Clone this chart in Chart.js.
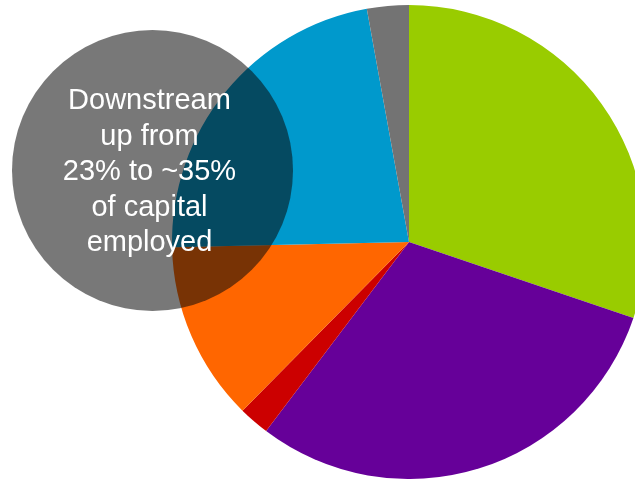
<!DOCTYPE html>
<html>
<head>
<meta charset="utf-8">
<script src="https://cdn.jsdelivr.net/npm/chart.js@4.4.1/dist/chart.umd.min.js"></script>
<style>
    html, body { margin: 0; padding: 0; background: #fff; overflow: hidden; width: 635px; height: 479px; }
    #wrap { position: absolute; left: 0; top: 5px; width: 818px; height: 474px; }
    #bubble {
        position: absolute; left: 12px; top: 30px; width: 281px; height: 281px;
        border-radius: 50%; background: rgba(10, 10, 10, 0.55);
    }
    #bubble-text {
        position: absolute; left: 9px; top: 82px; width: 281px;
        text-align: center; color: #fff;
        font-family: "Liberation Sans", Arial, sans-serif; font-size: 29px; line-height: 35.5px;
    }
</style>
</head>
<body>
<div id="wrap"><canvas id="pieChart" width="818" height="474"></canvas></div>
<div id="bubble"></div>
<div id="bubble-text">Downstream<br>up from<br>23% to ~35%<br>of capital<br>employed</div>
<script>
// slice shares (% of capital employed), clockwise from 12 o'clock
const segments = ['Segment A', 'Segment B', 'Segment C', 'Segment D', 'Segment E', 'Segment F'];
const shares = [30.2, 30.1, 2.1, 12.25, 22.5, 2.85];
const sliceColors = ['#99CC00', '#660099', '#CC0000', '#FF6600', '#0099CC', '#737373'];

function createPieChart(ctx) {
    return new Chart(ctx, {
        type: 'pie',
        data: {
            labels: segments,
            datasets: [{
                data: shares,
                backgroundColor: sliceColors,
                borderWidth: 0
            }]
        },
        options: {
            responsive: false,
            animation: false,
            layout: { padding: 0 },
            plugins: {
                legend: { display: false },
                tooltip: { enabled: false }
            }
        }
    });
}

createPieChart(document.getElementById('pieChart').getContext('2d'));
</script>
</body>
</html>
